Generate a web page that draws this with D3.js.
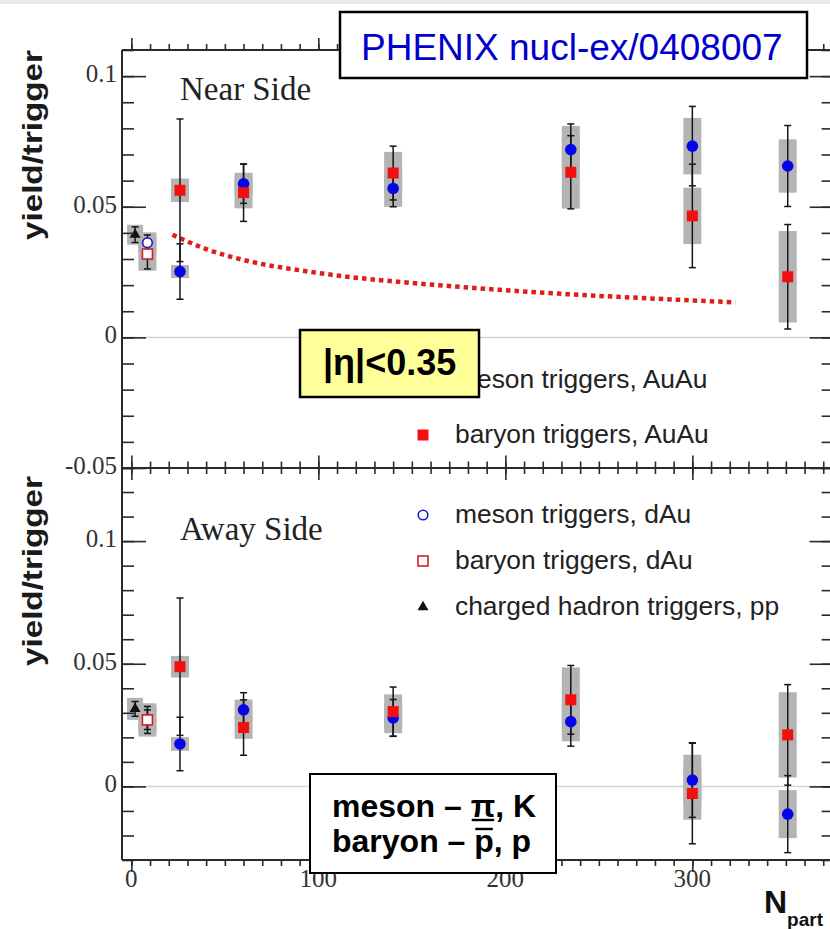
<!DOCTYPE html>
<html>
<head>
<meta charset="utf-8">
<script src="https://cdn.jsdelivr.net/npm/d3@7"></script>
<style>
  body { margin: 0; background: #fff; }
  svg { display: block; }
</style>
</head>
<body>
<svg id="chart" width="830" height="929"></svg>
<script>
// ---- Centrality (N_part) of each point ----
const npartAuAu = [26, 60, 140, 235, 300, 351];
const npartSmall = [2, 8.6, 8.6];                 // pp, d+Au, d+Au
const kindSmall = ["pp", "mesonDAu", "baryonDAu"];

// ---- Near side: Au+Au ----
const nearMeson     = [0.0252, 0.0588, 0.0570, 0.0719, 0.0732, 0.0656];
const nearMesonStat = [0.0106, 0.0075, 0.0070, 0.0098, 0.0152, 0.0155];
const nearMesonSys  = [0.0025, 0.0042, 0.0070, 0.0090, 0.0108, 0.0102];
const nearBaryon     = [0.0563, 0.0554, 0.0629, 0.0632, 0.0465, 0.0232];
const nearBaryonStat = [0.0273, 0.0110, 0.0103, 0.0140, 0.0198, 0.0200];
const nearBaryonSys  = [0.0045, 0.0060, 0.0081, 0.0139, 0.0108, 0.0175];
// ---- Near side: pp hadron, d+Au meson, d+Au baryon ----
const nearSmall     = [0.0393, 0.0362, 0.0319];
const nearSmallStat = [0.0030, 0.0030, 0.0057];
const nearSmallSys  = [0.0038, 0.0040, 0.0064];

// ---- Away side: Au+Au ----
const awayMeson     = [0.0173, 0.0312, 0.0279, 0.0264, 0.0026, -0.0113];
const awayMesonStat = [0.0109, 0.0070, 0.0075, 0.0100, 0.0152, 0.0157];
const awayMesonSys  = [0.0028, 0.0042, 0.0062, 0.0080, 0.0103, 0.0098];
const awayBaryon     = [0.0488, 0.0240, 0.0305, 0.0353, -0.0029, 0.0210];
const awayBaryonStat = [0.0280, 0.0113, 0.0100, 0.0140, 0.0205, 0.0205];
const awayBaryonSys  = [0.0044, 0.0046, 0.0070, 0.0132, 0.0107, 0.0174];
// ---- Away side: pp hadron, d+Au meson, d+Au baryon ----
const awaySmall     = [0.0316, 0.0272, 0.0271];
const awaySmallStat = [0.0030, 0.0040, 0.0055];
const awaySmallSys  = [0.0045, 0.0050, 0.0068];

// ---- Near-side expectation curve (dotted) ----
const curveNpart = [22, 40, 65, 90, 110, 133, 152, 197, 222, 272, 323];
const curveYield = [0.0393, 0.0338, 0.0288, 0.0257, 0.0237, 0.0219, 0.0207, 0.0182, 0.0170, 0.0151, 0.0134];

// ---- Axis ticks ----
const xMajorTicks = [0, 100, 200, 300];
const xMinorTicks = d3.range(0, 371, 10);
const yLabelsTop = [-0.05, 0, 0.05, 0.1];
const yLabelsBottom = [0, 0.05, 0.1];

// ---- Legend entries ----
const legendTop = [["mesonAuAu", "meson triggers, AuAu"], ["baryonAuAu", "baryon triggers, AuAu"]];
const legendBottom = [["mesonDAu", "meson triggers, dAu"], ["baryonDAu", "baryon triggers, dAu"],
                      ["pp", "charged hadron triggers, pp"]];

// ---------------------------------------------------------------
const svg = d3.select("#chart");
const SANS = "'Liberation Sans', Arial, Helvetica, sans-serif";
const SERIF = "'Liberation Serif', 'Times New Roman', serif";
const BLUE = "#0505e8", RED = "#f40f0f", BOX = "#b4b4b4", AXIS = "#2a2a2a";

const x = d3.scaleLinear().domain([-5, 375]).range([122, 832.6]);
const yTop = d3.scaleLinear().domain([-0.05, 0.11]).range([468, 50]);
const yBot = d3.scaleLinear().domain([-0.03, 0.13]).range([860, 467.5]);
const [X0, X1] = x.range();

// faint strip along the top edge
svg.append("rect").attr("x", 0).attr("y", 0).attr("width", 830).attr("height", 4).attr("fill", "#e8ecf0");

function buildPoints(meson, mStat, mSys, baryon, bStat, bSys, small, sStat, sSys) {
  const pts = [];
  npartAuAu.forEach((n, i) => {
    pts.push({ n, v: meson[i], stat: mStat[i], sys: mSys[i], kind: "mesonAuAu" });
    pts.push({ n, v: baryon[i], stat: bStat[i], sys: bSys[i], kind: "baryonAuAu" });
  });
  npartSmall.forEach((n, i) => {
    pts.push({ n, v: small[i], stat: sStat[i], sys: sSys[i], kind: kindSmall[i] });
  });
  return pts;
}

function marker(sel, kind) {
  if (kind === "mesonAuAu") {
    sel.append("circle").attr("r", 5.8).attr("fill", BLUE);
  } else if (kind === "baryonAuAu") {
    sel.append("rect").attr("x", -5.5).attr("y", -5.5).attr("width", 11).attr("height", 11).attr("fill", RED);
  } else if (kind === "mesonDAu") {
    sel.append("circle").attr("r", 4.8).attr("fill", "#fff").attr("stroke", "#1a1ad0").attr("stroke-width", 1.6);
  } else if (kind === "baryonDAu") {
    sel.append("rect").attr("x", -5).attr("y", -5).attr("width", 10).attr("height", 10)
      .attr("fill", "#fff").attr("stroke", "#d42020").attr("stroke-width", 1.6);
  } else {
    sel.append("path").attr("d", d3.symbol(d3.symbolTriangle, 52)()).attr("fill", "#111");
  }
}

const drawOrder = ["pp", "mesonDAu", "baryonDAu", "mesonAuAu", "baryonAuAu"];

function drawPanel(y, pts, withCurve) {
  const g = svg.append("g");
  // zero reference
  g.append("line").attr("x1", X0).attr("x2", X1).attr("y1", y(0)).attr("y2", y(0))
    .attr("stroke", "#d6d6d6").attr("stroke-width", 1.5);
  // systematic boxes
  g.selectAll("rect.sys").data(pts).join("rect").attr("class", "sys")
    .attr("x", d => x(d.n) - (d.kind === "pp" ? 8 : 9))
    .attr("width", d => d.kind === "pp" ? 16 : 18)
    .attr("y", d => y(d.v + d.sys))
    .attr("height", d => y(d.v - d.sys) - y(d.v + d.sys))
    .attr("fill", BOX);
  if (withCurve) {
    const line = d3.line().x(d => x(d[0])).y(d => y(d[1])).curve(d3.curveMonotoneX);
    g.append("path").datum(curveNpart.map((n, i) => [n, curveYield[i]]))
      .attr("d", line).attr("fill", "none").attr("stroke", "#e01c1c")
      .attr("stroke-width", 4.5).attr("stroke-dasharray", "4.5,4");
  }
  // statistical error bars
  const eb = g.selectAll("g.err").data(pts).join("g").attr("class", "err")
    .attr("stroke", "#151515").attr("stroke-width", 1.5);
  eb.append("line").attr("x1", d => x(d.n)).attr("x2", d => x(d.n))
    .attr("y1", d => y(d.v + d.stat)).attr("y2", d => y(d.v - d.stat));
  [1, -1].forEach(s => {
    eb.append("line").attr("x1", d => x(d.n) - 3.5).attr("x2", d => x(d.n) + 3.5)
      .attr("y1", d => y(d.v + s * d.stat)).attr("y2", d => y(d.v + s * d.stat));
  });
  // markers
  drawOrder.forEach(k => {
    pts.filter(d => d.kind === k).forEach(d => {
      const m = g.append("g").attr("transform", `translate(${x(d.n)},${y(d.v)})`);
      marker(m, k);
    });
  });
}

drawPanel(yTop, buildPoints(nearMeson, nearMesonStat, nearMesonSys, nearBaryon, nearBaryonStat, nearBaryonSys,
                            nearSmall, nearSmallStat, nearSmallSys), true);
drawPanel(yBot, buildPoints(awayMeson, awayMesonStat, awayMesonSys, awayBaryon, awayBaryonStat, awayBaryonSys,
                            awaySmall, awaySmallStat, awaySmallSys), false);

// ---- frames and axes ----
const frame = svg.append("g").attr("stroke", AXIS).attr("stroke-width", 2).attr("fill", "none");
[yTop.range()[1], yTop.range()[0], yBot.range()[0]].forEach(yy =>
  frame.append("line").attr("x1", X0).attr("x2", X1).attr("y1", yy).attr("y2", yy));
frame.append("line").attr("x1", X0).attr("x2", X0).attr("y1", yTop.range()[1]).attr("y2", yBot.range()[0]);
frame.append("line").attr("x1", X1).attr("x2", X1).attr("y1", yTop.range()[1]).attr("y2", yBot.range()[0]);

function styleAxis(g) {
  g.select(".domain").remove();
  g.selectAll(".tick line").attr("stroke", AXIS).attr("stroke-width", 1.6);
  g.selectAll(".tick text").attr("font-family", SERIF).attr("font-size", 25).attr("fill", "#333");
}

function xTicks(yy, dir) {
  const ax = dir > 0 ? d3.axisTop : d3.axisBottom;
  [[xMinorTicks, 6], [xMajorTicks, 12]].forEach(([vals, len]) => {
    svg.append("g").attr("transform", `translate(0,${yy})`)
      .call(ax(x).tickValues(vals).tickSize(-len).tickFormat(""))
      .call(styleAxis);
  });
}
xTicks(yTop.range()[1], -1);   // ticks pointing down from the top edge
xTicks(yTop.range()[0], 1);    // up into the near-side panel
xTicks(yBot.range()[1], -1);   // down into the away-side panel
xTicks(yBot.range()[0], 1);    // up from the bottom edge

function yTicks(y, labels) {
  const lo = y.domain()[0], hi = y.domain()[1];
  const minors = d3.range(Math.ceil(lo * 100 - 1e-9), Math.floor(hi * 100 + 1e-9) + 1).map(v => v / 100);
  svg.append("g").attr("transform", `translate(${X0},0)`)
    .call(d3.axisLeft(y).tickValues(minors).tickSize(-12).tickFormat("")).call(styleAxis);
  svg.append("g").attr("transform", `translate(${X0},0)`)
    .call(d3.axisLeft(y).tickValues(labels).tickSize(-24).tickPadding(5).tickFormat(d => String(d)))
    .call(styleAxis)
    .call(g => g.selectAll(".tick text").attr("dy", "0.22em"));
  svg.append("g").attr("transform", `translate(${X1},0)`)
    .call(d3.axisRight(y).tickValues(minors).tickSize(-11).tickFormat("")).call(styleAxis);
  svg.append("g").attr("transform", `translate(${X1},0)`)
    .call(d3.axisRight(y).tickValues(labels).tickSize(-23).tickFormat("")).call(styleAxis);
}
yTicks(yTop, yLabelsTop);
yTicks(yBot, yLabelsBottom);

// x tick labels under the lower panel
svg.append("g").selectAll("text").data(xMajorTicks).join("text")
  .attr("x", d => x(d)).attr("y", 887).attr("text-anchor", "middle")
  .attr("font-family", SERIF).attr("font-size", 25).attr("fill", "#333").text(d => d);

// ---- panel titles ----
svg.append("text").attr("x", 180).attr("y", 100).attr("font-family", SERIF).attr("font-size", 33)
  .attr("fill", "#222").text("Near Side");
svg.append("text").attr("x", 180).attr("y", 540).attr("font-family", SERIF).attr("font-size", 33)
  .attr("fill", "#222").text("Away Side");

// ---- y-axis titles ----
[145, 571].forEach(cy => {
  svg.append("text").attr("transform", `translate(42,${cy}) rotate(-90)`)
    .attr("text-anchor", "middle").attr("font-family", SANS).attr("font-weight", "bold")
    .attr("font-size", 27).attr("textLength", 190).attr("lengthAdjust", "spacingAndGlyphs")
    .attr("fill", "#1a1a1a").text("yield/trigger");
});

// ---- x-axis title ----
const xt = svg.append("text").attr("x", 764).attr("y", 913).attr("font-family", SANS)
  .attr("font-weight", "bold").attr("fill", "#111");
xt.append("tspan").attr("font-size", 32).text("N");
xt.append("tspan").attr("font-size", 19).attr("dy", 13).text("part");

// ---- legends ----
function legend(items, rows) {
  items.forEach(([kind, label], i) => {
    const m = svg.append("g").attr("transform", `translate(423,${rows[i] - 8})`);
    marker(m, kind);
    svg.append("text").attr("x", 455).attr("y", rows[i]).attr("font-family", SANS)
      .attr("font-size", 26.4).attr("fill", "#222").text(label);
  });
}
legend(legendTop, [388, 443]);
legend(legendBottom, [523, 569, 615]);

// ---- annotation boxes ----
svg.append("rect").attr("x", 340).attr("y", 12).attr("width", 467).attr("height", 66)
  .attr("fill", "#fff").attr("stroke", "#000").attr("stroke-width", 2.5);
svg.append("text").attr("x", 361).attr("y", 60).attr("font-family", SANS).attr("font-size", 37)
  .attr("fill", "#0000cc").text("PHENIX nucl-ex/0408007");

svg.append("rect").attr("x", 300).attr("y", 330).attr("width", 179).attr("height", 67)
  .attr("fill", "#ffff99").attr("stroke", "#000").attr("stroke-width", 2.5);
svg.append("text").attr("x", 323).attr("y", 375).attr("font-family", SANS).attr("font-weight", "bold")
  .attr("font-size", 36).attr("fill", "#000").text("|η|<0.35");

svg.append("rect").attr("x", 310).attr("y", 774).attr("width", 246).attr("height", 99)
  .attr("fill", "#fff").attr("stroke", "#000").attr("stroke-width", 2);

// two-line particle key; the bars under π and over the antiproton p are placed from the glyph extents
function keyLine(yBase, before, mark, after, barOffset) {
  const t = svg.append("text").attr("x", 332).attr("y", yBase).attr("font-family", SANS)
    .attr("font-weight", "bold").attr("font-size", 32).attr("fill", "#000")
    .text(before + mark + after);
  const node = t.node();
  const x0 = 332 + node.getSubStringLength(0, before.length);
  const w = node.getSubStringLength(before.length, mark.length);
  svg.append("line").attr("x1", x0 + 1).attr("x2", x0 + w - 1)
    .attr("y1", yBase + barOffset).attr("y2", yBase + barOffset)
    .attr("stroke", "#000").attr("stroke-width", 2.4);
}
keyLine(817, "meson – ", "π", ", K", 3);
keyLine(852, "baryon – ", "p", ", p", -23);
</script>
</body>
</html>
